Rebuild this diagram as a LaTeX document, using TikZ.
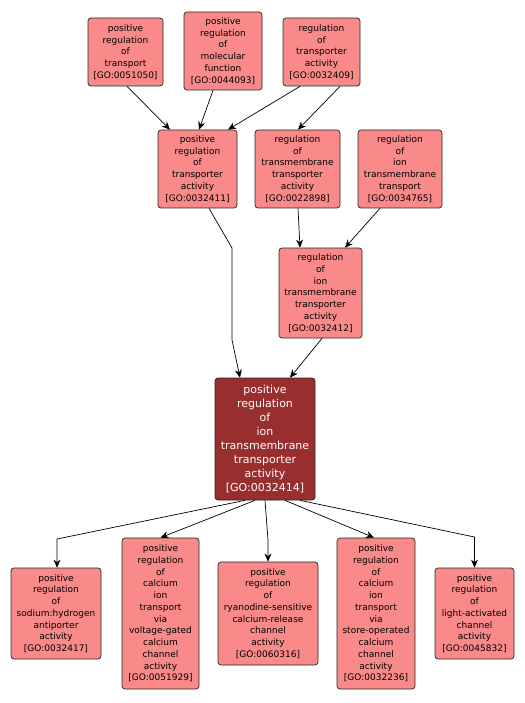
\documentclass[tikz,border=0pt]{standalone}
\usepackage{fontspec}
\setmainfont{DejaVu Sans}
\usetikzlibrary{arrows.meta}
\definecolor{termfill}{RGB}{250,138,138}
\definecolor{focusfill}{RGB}{153,46,46}
\begin{document}
\begin{tikzpicture}[
  x=1pt, y=-1pt,
  term/.style={rectangle, draw=black!85, line width=0.7pt, rounded corners=3pt,
               fill=termfill, inner sep=0pt, align=center,
               font=\fontsize{9}{11.75}\selectfont},
  focus/.style={term, fill=focusfill, text=white,
                font=\fontsize{11}{14}\selectfont},
  link/.style={-{Stealth[length=8pt, width=7pt, inset=2.5pt]}, line width=0.7pt},
]
  \useasboundingbox (0,0) rectangle (524,703);

  % Top row
  \node[term, minimum width=75pt, minimum height=68pt] at (125.5, 52) (transport)
    {positive\\regulation\\of\\transport\\{[GO:0051050]}};
  \node[term, minimum width=78pt, minimum height=78pt] at (223, 51) (molfunc)
    {positive\\regulation\\of\\molecular\\function\\{[GO:0044093]}};
  \node[term, minimum width=77pt, minimum height=68pt] at (321.5, 52) (regtransp)
    {regulation\\of\\transporter\\activity\\{[GO:0032409]}};

  % Second row
  \node[term, minimum width=79pt, minimum height=78pt] at (197.5, 169) (posregtransp)
    {positive\\regulation\\of\\transporter\\activity\\{[GO:0032411]}};
  \node[term, minimum width=85pt, minimum height=78pt] at (297.5, 169) (regtm)
    {regulation\\of\\transmembrane\\transporter\\activity\\{[GO:0022898]}};
  \node[term, minimum width=84pt, minimum height=78pt] at (400, 169) (regiontm)
    {regulation\\of\\ion\\transmembrane\\transport\\{[GO:0034765]}};

  % Third row
  \node[term, minimum width=83pt, minimum height=90pt] at (320.5, 293) (regiontmta)
    {regulation\\of\\ion\\transmembrane\\transporter\\activity\\{[GO:0032412]}};

  % Focus term
  \node[focus, minimum width=100pt, minimum height=122pt] at (265, 439) (main)
    {positive\\regulation\\of\\ion\\transmembrane\\transporter\\activity\\{[GO:0032414]}};

  % Bottom row
  \node[term, minimum width=90pt, minimum height=91pt] at (56, 613.5) (sodium)
    {positive\\regulation\\of\\sodium:hydrogen\\antiporter\\activity\\{[GO:0032417]}};
  \node[term, minimum width=77pt, minimum height=151pt] at (160.5, 613.5) (voltage)
    {positive\\regulation\\of\\calcium\\ion\\transport\\via\\voltage-gated\\calcium\\channel\\activity\\{[GO:0051929]}};
  \node[term, minimum width=100pt, minimum height=103pt] at (268, 613.5) (ryanodine)
    {positive\\regulation\\of\\ryanodine-sensitive\\calcium-release\\channel\\activity\\{[GO:0060316]}};
  \node[term, minimum width=78pt, minimum height=151pt] at (376, 613.5) (store)
    {positive\\regulation\\of\\calcium\\ion\\transport\\via\\store-operated\\calcium\\channel\\activity\\{[GO:0032236]}};
  \node[term, minimum width=79pt, minimum height=91pt] at (474.5, 613.5) (light)
    {positive\\regulation\\of\\light-activated\\channel\\activity\\{[GO:0045832]}};

  % Arrows into the upper terms
  \draw[link] ([xshift=1.5pt]transport.south) -- ([xshift=-27.5pt]posregtransp.north);
  \draw[link] ([xshift=-10pt]molfunc.south) -- ([xshift=1.5pt]posregtransp.north);
  \draw[link] ([xshift=-21.5pt]regtransp.south) -- ([xshift=30.5pt]posregtransp.north);
  \draw[link] ([xshift=18.5pt]regtransp.south) -- ([xshift=0.5pt]regtm.north);
  \draw[link] ([xshift=0.5pt]regtm.south) -- ([xshift=-20.5pt]regiontmta.north);
  \draw[link] ([xshift=-20pt]regiontm.south) -- ([xshift=24.5pt]regiontmta.north);

  % Arrows into the focus term
  \draw[link] ([xshift=11.5pt]posregtransp.south) -- (232,248) -- (232,340)
    -- ([xshift=-25pt]main.north);
  \draw[link] ([xshift=1.5pt]regiontmta.south) -- ([xshift=25pt]main.north);

  % Arrows from the focus term
  \draw[link] ([xshift=-20pt]main.south) -- (57,539) -- ([xshift=1pt]sodium.north);
  \draw[link] ([xshift=-10pt]main.south) -- (voltage.north);
  \draw[link] (main.south) -- (268,540) -- (ryanodine.north);
  \draw[link] ([xshift=20pt]main.south) -- ([xshift=-2pt]store.north);
  \draw[link] ([xshift=35pt]main.south) -- (474.5,537) -- (light.north);
\end{tikzpicture}
\end{document}
